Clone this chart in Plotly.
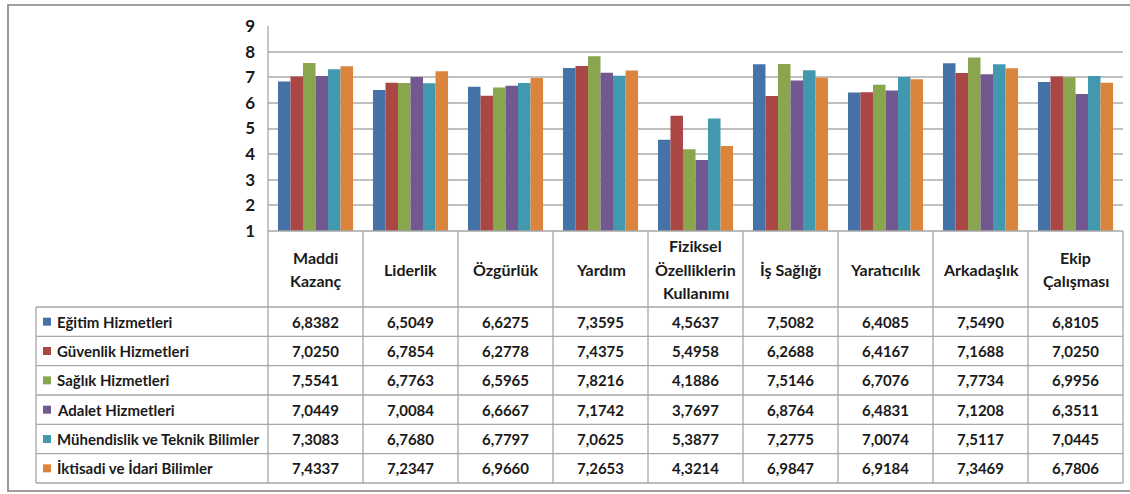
import plotly.graph_objects as go

categories = ["Maddi<br>Kazanç", "Liderlik", "Özgürlük", "Yardım",
              "Fiziksel<br>Özelliklerin<br>Kullanımı", "İş Sağlığı",
              "Yaratıcılık", "Arkadaşlık", "Ekip<br>Çalışması"]

series_names = ["Eğitim Hizmetleri", "Güvenlik Hizmetleri", "Sağlık Hizmetleri",
                "Adalet Hizmetleri", "Mühendislik ve Teknik Bilimler",
                "İktisadi ve İdari Bilimler"]

egitim = [6.8382, 6.5049, 6.6275, 7.3595, 4.5637, 7.5082, 6.4085, 7.5490, 6.8105]
guvenlik = [7.0250, 6.7854, 6.2778, 7.4375, 5.4958, 6.2688, 6.4167, 7.1688, 7.0250]
saglik = [7.5541, 6.7763, 6.5965, 7.8216, 4.1886, 7.5146, 6.7076, 7.7734, 6.9956]
adalet = [7.0449, 7.0084, 6.6667, 7.1742, 3.7697, 6.8764, 6.4831, 7.1208, 6.3511]
muhendislik = [7.3083, 6.7680, 6.7797, 7.0625, 5.3877, 7.2775, 7.0074, 7.5117, 7.0445]
iktisadi = [7.4337, 7.2347, 6.9660, 7.2653, 4.3214, 6.9847, 6.9184, 7.3469, 6.7806]

series_values = [egitim, guvenlik, saglik, adalet, muhendislik, iktisadi]
colors = ["#4572A7", "#AA4643", "#89A54E", "#71588F", "#4198AF", "#DB843D"]

y_ticks = [1, 2, 3, 4, 5, 6, 7, 8, 9]

W, H = 1130, 494
FONT = "Lato"
TXT = "#1a1a1a"
GRID = "#BFBFBF"
TABLE = "#A6A6A6"


def fx(px):
    return px / W


def fy(py):
    return 1 - py / H


plot_l, plot_r, plot_t, plot_b = 268, 1123, 26, 231
col_w = (plot_r - plot_l) / len(categories)
tbl_left = 36
row_top = 307
row_bot = 483
row_h = (row_bot - row_top) / len(series_names)

fig = go.Figure()
for name, vals, c in zip(series_names, series_values, colors):
    fig.add_trace(go.Bar(x=categories, y=vals, name=name, marker_color=c,
                         marker_line_width=0))

shapes = []
annotations = []

# outer frame
shapes.append(dict(type="rect", xref="paper", yref="paper",
                   x0=fx(8), x1=fx(1140), y0=fy(491), y1=fy(5),
                   line=dict(color="#808080", width=1.6)))

# table horizontal lines
shapes.append(dict(type="line", xref="paper", yref="paper",
                   x0=fx(plot_l), x1=fx(plot_r), y0=fy(plot_b), y1=fy(plot_b),
                   line=dict(color=TABLE, width=1.3)))
for r in range(len(series_names) + 1):
    py = row_top + r * row_h
    shapes.append(dict(type="line", xref="paper", yref="paper",
                       x0=fx(tbl_left), x1=fx(plot_r), y0=fy(py), y1=fy(py),
                       line=dict(color=TABLE, width=1.3)))
# table vertical lines
shapes.append(dict(type="line", xref="paper", yref="paper",
                   x0=fx(tbl_left), x1=fx(tbl_left), y0=fy(row_top), y1=fy(row_bot),
                   line=dict(color=TABLE, width=1.3)))
for k in range(len(categories) + 1):
    px = plot_l + k * col_w
    shapes.append(dict(type="line", xref="paper", yref="paper",
                       x0=fx(px), x1=fx(px), y0=fy(plot_b if k > 0 else plot_t), y1=fy(row_bot),
                       line=dict(color=TABLE, width=1.3)))

# category header labels
for i, cat in enumerate(categories):
    lines = cat.split("<br>")
    n = len(lines)
    for k, ln in enumerate(lines):
        py = 269 + (k - (n - 1) / 2) * 23
        annotations.append(dict(x=i, y=fy(py), xref="x", yref="paper",
                                text=ln, showarrow=False, xanchor="center", yanchor="middle",
                                font=dict(family=FONT, size=16, color=TXT, weight="bold")))

# series rows
for r, (name, vals, c) in enumerate(zip(series_names, series_values, colors)):
    cy = row_top + (r + 0.5) * row_h
    shapes.append(dict(type="rect", xref="paper", yref="paper",
                       x0=fx(43), x1=fx(51), y0=fy(cy + 4), y1=fy(cy - 4),
                       fillcolor=c, line=dict(width=0)))
    annotations.append(dict(x=fx(55), y=fy(cy), xref="paper", yref="paper",
                            text=name, showarrow=False, xanchor="left", yanchor="middle",
                            font=dict(family=FONT, size=15, color=TXT, weight="bold")))
    for i, v in enumerate(vals):
        annotations.append(dict(x=i, y=fy(cy), xref="x", yref="paper",
                                text=f"{v:.4f}".replace(".", ","), showarrow=False,
                                xanchor="center", yanchor="middle",
                                font=dict(family=FONT, size=15, color=TXT, weight="bold")))

fig.update_layout(
    width=W, height=H,
    margin=dict(l=0, r=0, t=0, b=0, autoexpand=False),
    paper_bgcolor="white", plot_bgcolor="white",
    barmode="group", bargap=0.21, bargroupgap=0,
    showlegend=False,
    xaxis=dict(domain=[fx(plot_l), fx(plot_r)], showticklabels=False, ticks="",
               showgrid=False, showline=False, zeroline=False, fixedrange=True),
    yaxis=dict(domain=[fy(plot_b), fy(plot_t)], range=[1, 9], tickvals=y_ticks,
               autorange=False,
               showgrid=True, gridcolor=GRID, gridwidth=1.6, zeroline=False,
               showline=False, ticks="", ticklabelstandoff=12,
               tickfont=dict(family=FONT, size=17, color=TXT, weight="bold")),
    shapes=shapes,
    annotations=annotations,
)

fig.write_html("out.html", config={"displayModeBar": False},
               post_script="document.body.style.margin='0';document.body.style.overflow='hidden';")
